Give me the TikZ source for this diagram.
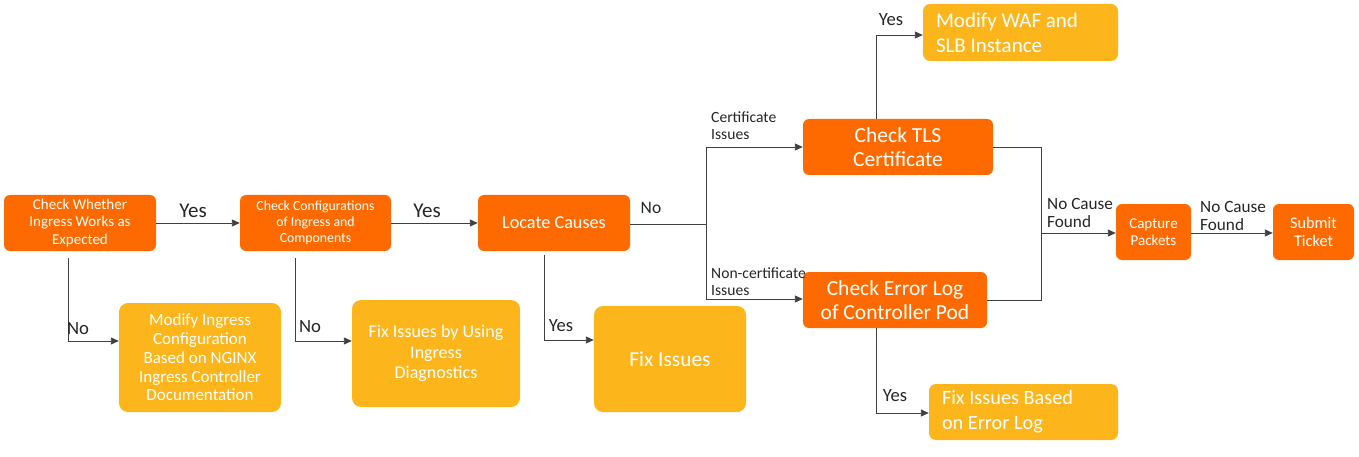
\documentclass[tikz,border=0pt]{standalone}
\usepackage{fontspec}
\setmainfont{Carlito}
\usetikzlibrary{arrows.meta}
\definecolor{org}{HTML}{FF6A00}
\definecolor{yel}{HTML}{FDB51C}
\definecolor{ln}{HTML}{404040}
\tikzset{
  obox/.style={fill=org,draw=none,rounded corners=6pt,text=white,align=center,inner sep=0pt},
  ybox/.style={fill=yel,draw=none,rounded corners=9pt,text=white,align=center,inner sep=0pt},
  conn/.style={draw=ln,line width=0.9pt,-{Triangle[length=8pt,width=7pt]}},
  wire/.style={draw=ln,line width=0.9pt},
  lab/.style={text=black!85,inner sep=0pt,align=left},
  fs/.style 2 args={font=\fontsize{#1}{#2}\selectfont}
}
\begin{document}
\begin{tikzpicture}[x=1pt,y=-1pt]
\useasboundingbox (0,0) rectangle (1359,457);
% orange boxes
\node[obox,minimum width=152,minimum height=56,fs={15}{17.5}] (cw) at (80,223) {Check Whether\\Ingress Works as\\Expected};
\node[obox,minimum width=151,minimum height=56,fs={13.8}{16}] (cc) at (315.5,223) {Check Configurations\\of Ingress and\\Components};
\node[obox,minimum width=152,minimum height=56,fs={18.2}{20}] (lc) at (554,223) {Locate Causes};
\node[obox,minimum width=190,minimum height=56,fs={21.5}{24}] (tls) at (898,147) {Check TLS\\Certificate};
\node[obox,minimum width=184,minimum height=56,fs={21.5}{24.5}] (el) at (895,300) {Check Error Log\\of Controller Pod};
\node[obox,minimum width=75,minimum height=56,fs={15}{17.5}] (cp) at (1153.5,232) {Capture\\Packets};
\node[obox,minimum width=81,minimum height=56,fs={16.3}{18}] (st) at (1313.5,232) {Submit\\Ticket};
% yellow boxes
\node[ybox,minimum width=162,minimum height=109,fs={17}{18.7}] (mi) at (200,357.5) {Modify Ingress\\Configuration\\Based on NGINX\\Ingress Controller\\Documentation};
\node[ybox,minimum width=168,minimum height=107,fs={18}{20.5}] (fd) at (436,353.5) {Fix Issues by Using\\Ingress\\Diagnostics};
\node[ybox,minimum width=152,minimum height=106,fs={21.4}{20}] (fi) at (670,359) {Fix Issues};
\node[ybox,minimum width=195,minimum height=57,rounded corners=7pt,fs={21}{25},align=flush left,text width=169] (mw) at (1020.5,32.5) {Modify WAF and\\SLB Instance};
\node[ybox,minimum width=189,minimum height=56,rounded corners=7pt,fs={20.3}{25},align=flush left,text width=163] (fe) at (1023.5,412) {Fix Issues Based\\on Error Log};
% junction coordinates
\coordinate (j1) at (706,224);
\coordinate (j1t) at (706,147);
\coordinate (j1b) at (706,299);
\coordinate (j2t) at (1041,147);
\coordinate (j2b) at (1041,300);
\coordinate (j2) at (1041,233);
% connectors
\draw[conn] (cw.east) -- (cc.west);
\node[lab,fs={21}{20}] (l1) at (193,211) {Yes};
\draw[conn] (cc.east) -- (lc.west);
\node[lab,fs={21}{20}] (l2) at (427,211) {Yes};
\draw[conn] (68,258) |- (mi.west |- 0,341);
\node[lab,fs={18.7}{20}] (l3) at (78,329) {No};
\draw[conn] (295,258) |- (fd.west |- 0,341);
\node[lab,fs={18.7}{20}] (l4) at (310,327) {No};
\draw[conn] (544,255) |- (fi.west |- 0,340);
\node[lab,fs={18.6}{20}] (l5) at (561,326) {Yes};
\draw[wire] (lc.east |- j1) -- (j1);
\node[lab,fs={17.5}{20}] (l6) at (651,208) {No};
\draw[wire] (j1t) -- (j1b);
\draw[conn] (j1t) -- (tls.west |- j1t);
\draw[conn] (j1b) -- (el.west |- j1b);
\node[lab,fs={15.6}{17},anchor=west] (l7) at (711,126) {Certificate\\Issues};
\node[lab,fs={15.6}{17},anchor=west] (l8) at (711,282) {Non-certificate\\Issues};
\draw[conn] (tls.north -| 876,0) |- (mw.west |- 0,35);
\node[lab,fs={18.6}{20}] (l9) at (891,20) {Yes};
\draw[conn] (el.south -| 876,0) |- (fe.west |- 0,413);
\node[lab,fs={18.6}{20}] (l10) at (895,396) {Yes};
\draw[wire] (tls.east |- j2t) -- (j2t) -- (j2b) -- (el.east |- j2b);
\draw[conn] (j2) -- (cp.west |- j2);
\node[lab,fs={17.2}{18},anchor=west] (l11) at (1047,213) {No Cause\\Found};
\draw[conn] (cp.east |- j2) -- (st.west |- j2);
\node[lab,fs={17.2}{18},anchor=west] (l12) at (1200,216) {No Cause\\Found};
\end{tikzpicture}
\end{document}
